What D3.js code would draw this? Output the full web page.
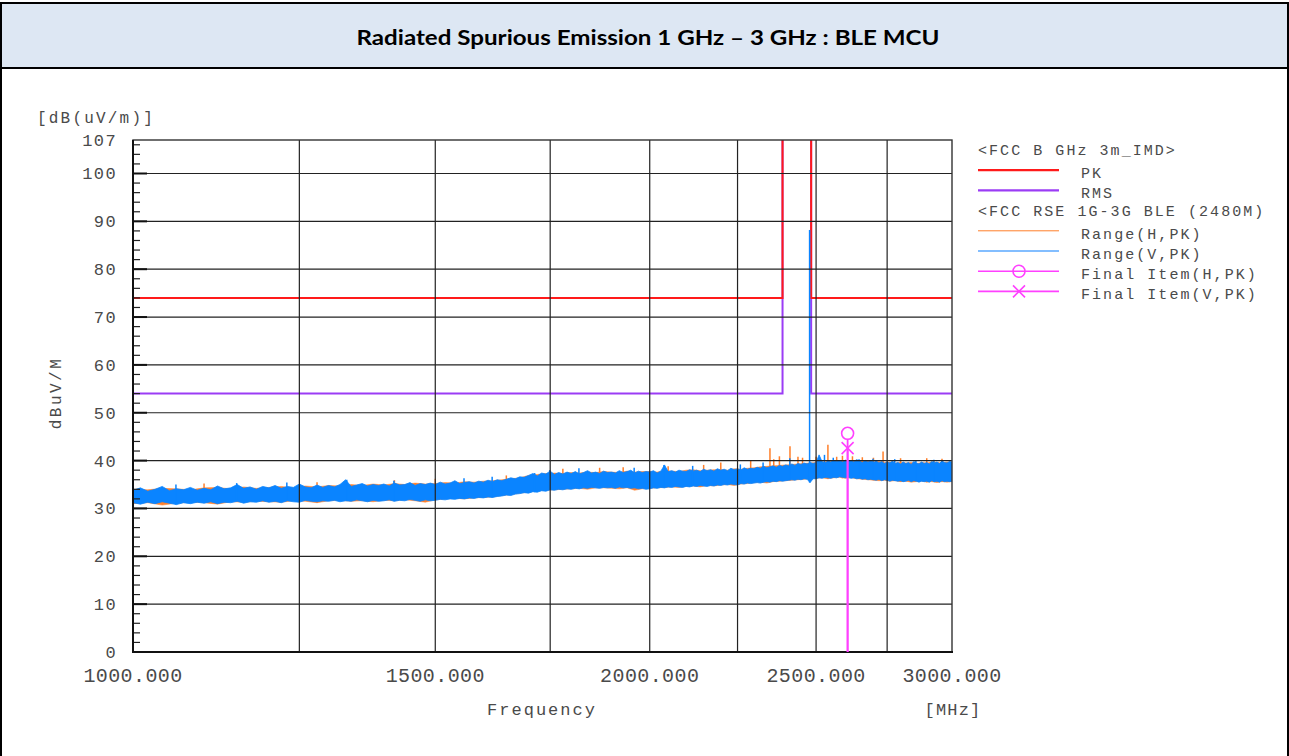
<!DOCTYPE html>
<html><head><meta charset="utf-8">
<script src="https://cdn.jsdelivr.net/npm/d3@7"></script>
<style>body{margin:0;background:#fff} svg{display:block}</style>
</head><body>
<svg id="c" width="1289" height="756"></svg>
<script>
// ---------------- data ----------------
const titleText = "Radiated Spurious Emission 1 GHz \u2013 3 GHz : BLE MCU";
const sweepStartMHz = 1000, vStepMHz = 10, hStepMHz = 20;
// Range(V,PK) envelope, 10 MHz steps 1000..3000
const vTop = [
33.8,34.3,33.6,34.0,34.6,33.7,34.1,33.9,34.4,33.8,
34.2,33.9,34.7,34.1,34.3,35.0,34.2,34.5,34.0,34.6,
34.3,34.8,34.2,34.6,34.4,35.1,34.5,34.3,34.9,34.4,
34.8,34.5,35.0,36.0,34.6,34.9,35.2,34.7,35.0,34.8,
35.1,34.7,35.3,34.9,35.0,35.4,34.8,35.2,35.0,35.3,
35.0,35.5,35.1,35.3,35.8,35.2,35.4,35.6,35.3,35.7,
35.5,35.9,35.6,36.0,35.8,36.1,36.4,36.2,36.6,36.5,
36.9,37.3,36.8,37.4,37.2,37.8,37.1,37.5,37.2,37.6,
37.3,37.7,37.2,37.5,37.9,37.4,37.6,37.3,37.8,37.5,
37.6,37.4,37.9,37.5,37.7,38.0,37.4,37.8,37.5,37.7,
37.6,37.9,37.4,37.8,39.1,37.7,37.9,37.6,38.0,37.8,
37.7,38.1,37.8,38.0,37.7,38.2,37.9,38.1,37.8,38.3,
38.0,38.2,37.9,38.4,38.1,38.3,38.0,38.5,38.2,38.4,
38.3,38.6,38.4,38.8,38.5,38.7,38.9,38.6,39.0,38.8,
39.1,38.9,39.3,39.0,39.4,39.2,39.5,39.3,39.6,39.4,
39.6,41.2,39.8,39.5,39.9,39.7,40.1,39.8,40.0,39.7,
40.1,39.8,40.0,39.7,40.2,39.9,39.6,40.0,39.7,39.9,
39.6,39.9,39.5,39.8,39.4,39.7,39.5,39.9,39.4,39.6,
39.3,39.7,39.4,39.6,39.2,39.8,39.5,39.3,39.7,39.4,
39.6,39.3,39.8,39.5,39.7,39.4,39.9,39.6,39.5,39.8,
39.7];
const vBot = [
31.2,30.9,31.3,31.0,31.4,31.1,30.8,31.2,31.0,31.3,
31.1,31.4,31.0,31.3,31.2,31.5,31.1,31.4,31.3,31.6,
31.3,31.5,31.2,31.6,31.4,31.3,31.7,31.5,31.4,31.6,
31.5,31.7,31.4,31.6,31.5,31.8,31.6,31.4,31.7,31.5,
31.6,31.8,31.5,31.7,31.6,31.9,31.7,31.5,31.8,31.6,
31.7,31.9,31.8,32.0,31.9,32.1,32.0,32.2,32.1,32.3,
32.2,32.4,32.3,32.5,32.6,32.8,32.7,33.0,33.1,33.3,
33.2,33.5,33.4,33.7,33.6,33.9,33.8,34.0,33.9,34.1,
34.0,34.2,34.1,34.3,34.2,34.4,34.3,34.2,34.4,34.3,
34.4,34.2,34.5,34.3,34.4,34.2,34.3,34.1,34.2,34.0,
34.1,34.3,34.2,34.4,34.3,34.5,34.4,34.6,34.5,34.4,
34.6,34.5,34.7,34.6,34.8,34.7,34.6,34.8,34.7,34.9,
34.8,35.0,34.9,35.1,35.0,34.9,35.2,35.1,35.3,35.2,
35.3,35.4,35.3,35.5,35.6,35.5,35.7,35.6,35.8,35.7,
35.8,35.9,36.0,35.9,36.1,36.0,36.2,36.1,35.4,36.2,
36.2,36.4,36.3,36.5,36.4,36.3,36.5,36.4,36.6,36.5,
36.4,36.5,36.3,36.4,36.2,36.3,36.1,36.2,36.0,36.1,
36.0,35.9,36.1,35.8,36.0,35.9,35.7,35.9,35.8,35.7,
35.8,35.6,35.7,35.9,35.6,35.8,35.7,35.5,35.7,35.6,
35.7,35.5,35.8,35.6,35.7,35.5,35.8,35.6,35.7,35.6,
35.7];
// Range(H,PK) envelope, 20 MHz steps 1000..3000
const hTop = [
34.0,33.9,34.2,34.1,33.9,34.3,34.4,34.1,34.5,34.2,
34.4,34.6,34.3,34.7,34.5,34.8,34.7,35.0,34.8,35.1,
34.9,35.2,35.0,35.3,35.1,35.2,35.4,35.3,35.6,35.5,
35.7,35.8,36.0,36.2,36.4,36.9,37.1,37.3,37.4,37.3,
37.5,37.4,37.6,37.5,37.7,37.6,37.5,37.8,37.6,37.7,
37.7,37.6,37.9,37.8,37.7,38.0,38.1,37.9,38.0,38.1,
38.1,38.0,38.3,38.2,38.4,38.5,38.7,38.8,38.9,39.0,
39.1,39.2,39.3,39.4,39.5,39.6,39.7,39.8,39.9,40.0,
40.0,39.9,40.1,39.8,39.9,39.7,39.8,39.6,39.7,39.5,
39.6,39.5,39.6,39.4,39.6,39.5,39.7,39.6,39.5,39.7,
39.6];
const hBot = [
31.0,31.2,30.7,31.1,31.3,31.2,30.9,31.4,31.3,31.5,
31.4,31.3,31.6,31.5,31.2,31.6,31.7,31.5,31.6,31.4,
31.7,31.6,31.8,31.6,31.3,31.8,32.0,32.1,32.0,32.2,
32.3,32.4,32.7,32.9,33.2,33.4,33.7,33.8,33.9,34.0,
34.1,34.2,34.0,34.3,34.3,34.2,34.1,34.3,33.8,34.1,
34.2,34.3,34.4,34.5,34.4,34.6,34.7,34.5,34.8,34.7,
34.9,35.0,34.8,35.1,35.2,35.4,35.5,35.3,35.6,35.7,
35.8,35.9,36.0,36.1,36.2,36.3,36.4,36.2,36.4,36.5,
36.3,36.4,36.2,36.1,36.0,35.9,35.8,35.9,35.7,35.8,
35.6,35.7,35.5,35.6,35.7,35.5,35.6,35.4,35.6,35.5,
35.6];
// narrow peaks [MHz, dBuV/m]
const hSpikes = [[1100,35.2],[1280,35.5],[1420,35.9],[1500,36.2],[1650,36.9],[1780,38.3],
  [1870,38.5],[1930,38.6],[2050,38.8],[2150,39.1],[2200,39.6],[2290,40.0],
  [2350,42.6],[2362,40.3],[2380,40.9],[2414,43.0],[2440,40.8],[2455,40.6],[2500,40.8],
  [2540,43.3],[2570,40.8],[2590,41.0],[2625,40.9],[2660,40.7],[2700,40.6],[2735,41.9],
  [2800,40.5],[2900,40.5],[2960,40.4]];
const vSpikes = [[1060,35.0],[1150,35.3],[1230,35.4],[1333,36.0],[1420,35.8],[1560,36.3],
  [1620,36.6],[1715,37.4],[1750,38.0],[1820,38.4],[1960,38.5],[2040,39.1],[2120,38.9],
  [2260,39.2],[2330,39.6],[2415,40.5],[2480,88.2],[2530,41.2],[2560,40.6],[2650,40.3],
  [2700,40.4],[2780,40.3],[2860,40.1],[2930,40.2]];
// limit lines
const pkLimit  = [[1000,74],[2390,74],[2390,125],[2483.5,125],[2483.5,74],[3000,74]];
const rmsLimit = [[1000,54],[2390,54],[2390,125],[2483.5,125],[2483.5,54],[3000,54]];
// final measurement items
const finalItems = [{pol:"H", f:2608, level:45.7, mark:"circle"},
                    {pol:"V", f:2608, level:42.6, mark:"cross"}];
// axes
const xLabelTicks = [1000,1500,2000,2500,3000];
const xGridTicks  = [1250,1500,1750,2000,2250,2500,2750];
const yLabelTicks = [0,10,20,30,40,50,60,70,80,90,100,107];
const yGridTicks  = [10,20,30,40,50,60,70,80,90,100];
const yMinorTicks = d3.range(2,107,2);
const legendItems = [
  {type:"head", text:"<FCC B GHz 3m_IMD>"},
  {type:"line", text:"PK", color:"#ff1a1a", w:2.2},
  {type:"line", text:"RMS", color:"#9b3cf5", w:2.2},
  {type:"head", text:"<FCC RSE 1G-3G BLE (2480M)"},
  {type:"line", text:"Range(H,PK)", color:"#ff7f2a", w:1},
  {type:"line", text:"Range(V,PK)", color:"#5aa8ff", w:1.6},
  {type:"line", text:"Final Item(H,PK)", color:"#ff40ff", w:1.6, mark:"circle"},
  {type:"line", text:"Final Item(V,PK)", color:"#ff40ff", w:1.6, mark:"cross"}
];

// ---------------- drawing ----------------
const svg = d3.select("#c");
const W = 1289, H = 756;
const L = 133, R = 952, T = 140, B = 652;
const x = d3.scaleLog().domain([1000,3000]).range([L,R]);
const y = d3.scaleLinear().domain([0,107]).range([B,T]);
const mono = "'Liberation Mono', 'DejaVu Sans Mono', monospace";
const txt = "#4a4a4a";

// page frame and title box
svg.append("rect").attr("x",1).attr("y",3).attr("width",W-2).attr("height",65).attr("fill","#dde7f3");
svg.append("line").attr("x1",0).attr("x2",W).attr("y1",3).attr("y2",3).attr("stroke","#000").attr("stroke-width",2);
svg.append("line").attr("x1",0).attr("x2",W).attr("y1",68).attr("y2",68).attr("stroke","#000").attr("stroke-width",2);
svg.append("line").attr("x1",1).attr("x2",1).attr("y1",2).attr("y2",H).attr("stroke","#000").attr("stroke-width",2);
svg.append("line").attr("x1",W-1).attr("x2",W-1).attr("y1",2).attr("y2",H).attr("stroke","#000").attr("stroke-width",2);
svg.append("text").attr("x",648).attr("y",45).attr("text-anchor","middle")
  .attr("font-family","Lato, 'Open Sans', sans-serif").attr("font-weight","bold").attr("font-size",20)
  .attr("textLength",583).attr("lengthAdjust","spacingAndGlyphs").attr("fill","#000").text(titleText);

// clip
svg.append("clipPath").attr("id","plotclip").append("rect").attr("x",L).attr("y",T).attr("width",R-L).attr("height",B-T);
const plot = svg.append("g").attr("clip-path","url(#plotclip)");

// traces
const hData = hTop.map((t,i)=>({f:sweepStartMHz+i*hStepMHz, hi:t, lo:hBot[i]}));
const vData = vTop.map((t,i)=>({f:sweepStartMHz+i*vStepMHz, hi:t, lo:vBot[i]}));
const area = d3.area().x(d=>x(d.f)).y0(d=>y(d.lo)).y1(d=>y(d.hi));
plot.append("path").datum(hData).attr("d",area).attr("fill","#ff7f2a").attr("stroke","#ff7f2a").attr("stroke-width",0.5);
plot.selectAll(".hs").data(hSpikes).join("line")
  .attr("x1",d=>x(d[0])).attr("x2",d=>x(d[0]))
  .attr("y1",d=>y(d[1])).attr("y2",d=>y(hBot[Math.round((d[0]-sweepStartMHz)/hStepMHz)]))
  .attr("stroke","#ff7f2a").attr("stroke-width",1.5);
plot.append("path").datum(vData).attr("d",area).attr("fill","#0a84ff").attr("stroke","#0a84ff").attr("stroke-width",0.8);

// grid
const grid = svg.append("g");
grid.selectAll(".gx").data(xGridTicks).join("line")
  .attr("x1",d=>x(d)).attr("x2",d=>x(d)).attr("y1",T).attr("y2",B)
  .attr("stroke","#222").attr("stroke-width",1.2);
grid.selectAll(".gy").data(yGridTicks).join("line")
  .attr("x1",L).attr("x2",R).attr("y1",d=>y(d)).attr("y2",d=>y(d))
  .attr("stroke","#222").attr("stroke-width",1.2);
grid.selectAll(".mt").data(yMinorTicks.filter(v=>v%10!==0)).join("line")
  .attr("x1",L).attr("x2",L+7).attr("y1",d=>y(d)).attr("y2",d=>y(d))
  .attr("stroke","#222").attr("stroke-width",1.2);
grid.selectAll(".Mt").data(yGridTicks).join("line")
  .attr("x1",L).attr("x2",L+14).attr("y1",d=>y(d)).attr("y2",d=>y(d))
  .attr("stroke","#111").attr("stroke-width",2);

// limit lines
const lim = d3.line().x(d=>x(d[0])).y(d=>y(d[1]));
plot.append("path").datum(rmsLimit).attr("d",lim).attr("fill","none").attr("stroke","#9b3cf5").attr("stroke-width",2);
plot.append("path").datum(pkLimit).attr("d",lim).attr("fill","none").attr("stroke","#ff1a1a").attr("stroke-width",2);

// V spikes (incl. carrier)
plot.selectAll(".vs").data(vSpikes).join("line")
  .attr("x1",d=>x(d[0])-0.5).attr("x2",d=>x(d[0])-0.5)
  .attr("y1",d=>y(d[1])).attr("y2",d=>y(vBot[Math.round((d[0]-sweepStartMHz)/vStepMHz)]))
  .attr("stroke","#0a84ff").attr("stroke-width",1.5);

// plot frame
svg.append("rect").attr("x",L).attr("y",T).attr("width",R-L).attr("height",B-T)
  .attr("fill","none").attr("stroke","#333").attr("stroke-width",1.4);
svg.append("line").attr("x1",L).attr("x2",L).attr("y1",T).attr("y2",B+1).attr("stroke","#111").attr("stroke-width",2);
svg.append("line").attr("x1",L-1).attr("x2",R+1).attr("y1",B).attr("y2",B).attr("stroke","#111").attr("stroke-width",2);

// final items
const fi = svg.append("g");
finalItems.forEach(d=>{
  fi.append("line").attr("x1",x(d.f)).attr("x2",x(d.f)).attr("y1",y(d.level)+(d.mark==="circle"?6:0)).attr("y2",B)
    .attr("stroke","#ff40ff").attr("stroke-width",1.8);
  drawMark(fi, d.mark, x(d.f), y(d.level));
});
function drawMark(g, mark, cx, cy){
  if(mark==="circle"){
    g.append("circle").attr("cx",cx).attr("cy",cy).attr("r",6).attr("fill","none").attr("stroke","#ff40ff").attr("stroke-width",1.6);
  } else {
    g.append("path").attr("d",`M${cx-6},${cy-6}L${cx+6},${cy+6}M${cx-6},${cy+6}L${cx+6},${cy-6}`)
      .attr("stroke","#ff40ff").attr("stroke-width",1.6).attr("fill","none");
  }
}

// axis labels
svg.append("g").selectAll("text").data(yLabelTicks).join("text")
  .attr("x",117).attr("y",d=>y(d)+6).attr("text-anchor","end")
  .attr("font-family",mono).attr("font-size",17).attr("letter-spacing",1.4).attr("fill",txt).text(d=>d);
svg.append("g").selectAll("text").data(xLabelTicks).join("text")
  .attr("x",d=>x(d)).attr("y",682).attr("text-anchor","middle")
  .attr("font-family",mono).attr("font-size",20).attr("letter-spacing",0.4).attr("fill",txt).text(d=>d.toFixed(3));
svg.append("text").attr("x",37).attr("y",123).attr("font-family",mono).attr("font-size",16).attr("letter-spacing",2.2).attr("fill",txt).text("[dB(uV/m)]");
svg.append("text").attr("transform","translate(61,393) rotate(-90)").attr("text-anchor","middle")
  .attr("font-family",mono).attr("font-size",16).attr("letter-spacing",2.5).attr("fill",txt).text("dBuV/M");
svg.append("text").attr("x",542).attr("y",715).attr("text-anchor","middle").attr("font-family",mono).attr("font-size",17).attr("letter-spacing",2).attr("fill",txt).text("Frequency");
svg.append("text").attr("x",953).attr("y",715).attr("text-anchor","middle").attr("font-family",mono).attr("font-size",17).attr("letter-spacing",1.2).attr("fill",txt).text("[MHz]");

// legend
const lg = svg.append("g");
legendItems.forEach((it,i)=>{
  const cy = 150 + i*20.2;
  if(it.type==="head"){
    lg.append("text").attr("x",978).attr("y",cy+5).attr("font-family",mono).attr("font-size",15).attr("letter-spacing",2.05).attr("fill",txt).text(it.text);
  } else {
    lg.append("line").attr("x1",978).attr("x2",1059).attr("y1",cy).attr("y2",cy).attr("stroke",it.color).attr("stroke-width",it.w);
    if(it.mark) drawMark(lg, it.mark, 1019, cy);
    lg.append("text").attr("x",1081).attr("y",cy+8).attr("font-family",mono).attr("font-size",15).attr("letter-spacing",2.05).attr("fill",txt).text(it.text);
  }
});
</script>
</body></html>
